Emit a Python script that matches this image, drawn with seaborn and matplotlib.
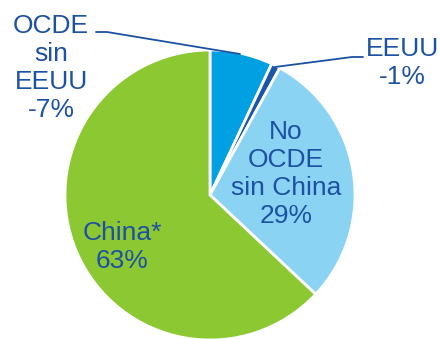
import matplotlib
matplotlib.use("Agg")
import matplotlib.pyplot as plt
import seaborn as sns

# Share of growth by region (labels carry the signed value, slices the magnitude)
regions = ["OCDE\nsin\nEEUU", "EEUU", "No\nOCDE\nsin China", "China*"]
values = [-7, -1, 29, 63]
colors = ["#00a0e3", "#1a56a8", "#8ad3f3", "#8cc832"]

sns.set_theme(style="white")
plt.rcParams["font.family"] = ["Liberation Sans", "DejaVu Sans"]

text_color = "#1c51a3"

fig = plt.figure(figsize=(4.4, 3.39), dpi=100)
ax = fig.add_axes([0, 0, 1, 1])

W, H = 440, 339
cx, cy, r = 210, H - 195, 145

sizes = [abs(v) for v in values]
ax.pie(sizes, colors=colors, startangle=90, counterclock=False,
       center=(cx, cy), radius=r,
       wedgeprops=dict(edgecolor="white", linewidth=2))

ax.set_xlim(0, W)
ax.set_ylim(0, H)
ax.set_aspect("equal", adjustable="box")
ax.axis("off")

labels = [f"{n}\n{v}%" for n, v in zip(regions, values)]
fs = 19
ls = 1.22

# Outside labels with leader lines
ax.text(51, H - 68, labels[0], ha="center", va="center", fontsize=fs,
        color=text_color, linespacing=ls)
ax.plot([96, 107, 240], [H - 32, H - 32, H - 54], color=text_color, lw=1.3)

ax.text(402, H - 63, labels[1], ha="center", va="center", fontsize=fs,
        color=text_color, linespacing=ls)
ax.plot([275, 352, 363], [H - 67, H - 57, H - 57], color=text_color, lw=1.3)

# Inside labels
ax.text(286, H - 174, labels[2], ha="center", va="center", fontsize=fs,
        color=text_color, linespacing=ls)
ax.text(122, H - 247, labels[3], ha="center", va="center", fontsize=fs,
        color=text_color, linespacing=ls)

fig.savefig("out.png", dpi=100)
